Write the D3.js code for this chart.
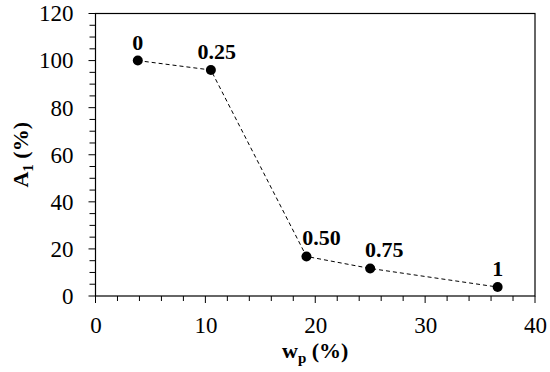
<!DOCTYPE html>
<html>
<head>
<meta charset="utf-8">
<script src="https://cdn.jsdelivr.net/npm/d3@7"></script>
<style>
  body { margin: 0; background: #fff; }
  text { font-family: "Liberation Serif", "Times New Roman", serif; fill: #000; }
</style>
</head>
<body>
<svg width="550" height="372"></svg>
<script>
// data
var wp = [3.85, 10.5, 19.2, 25.0, 36.6];
var A1 = [100, 96, 16.8, 11.7, 3.8];
var pointLabels = ["0", "0.25", "0.50", "0.75", "1"];
var xTicks = [0, 10, 20, 30, 40];
var yTicks = [0, 20, 40, 60, 80, 100, 120];

// label nudges (px), one per point
var labelDx = [0, 6, 15, 14, 0];

var svg = d3.select("svg"),
    pL = 95.5, pR = 535, pT = 13.5, pB = 296;

var x = d3.scaleLinear().domain([0, 40]).range([pL, pR]);
var y = d3.scaleLinear().domain([0, 120]).range([pB, pT]);

// frame
svg.append("rect")
    .attr("x", pL).attr("y", pT)
    .attr("width", pR - pL).attr("height", pB - pT)
    .attr("fill", "none").attr("stroke", "#000").attr("stroke-width", 1.2);

// ticks (major + minor)
svg.append("g").selectAll("line")
    .data(d3.range(0, 40.1, 2))
    .enter().append("line")
    .attr("x1", d => x(d)).attr("x2", d => x(d))
    .attr("y1", pB).attr("y2", d => pB + (d % 10 == 0 ? 7 : 5))
    .attr("stroke", "#000").attr("stroke-width", 1);

svg.append("g").selectAll("line")
    .data(d3.range(0, 120.1, 5))
    .enter().append("line")
    .attr("y1", d => y(d)).attr("y2", d => y(d))
    .attr("x1", pL).attr("x2", d => pL - (d % 20 == 0 ? 7 : 6))
    .attr("stroke", "#000").attr("stroke-width", 1);

// tick labels
var xAxis = svg.append("g")
    .attr("transform", "translate(0," + pB + ")")
    .call(d3.axisBottom(x).tickValues(xTicks).tickSize(0).tickPadding(21));
xAxis.select(".domain").remove();
xAxis.selectAll("text")
    .style("font-family", "Liberation Serif, serif")
    .style("font-size", "23px").attr("fill", "#000");

var yAxis = svg.append("g")
    .attr("transform", "translate(" + pL + ",0)")
    .call(d3.axisLeft(y).tickValues(yTicks).tickSize(0).tickPadding(22));
yAxis.select(".domain").remove();
yAxis.selectAll("text")
    .style("font-family", "Liberation Serif, serif")
    .style("font-size", "23px").attr("fill", "#000");

// axis titles
var xt = svg.append("text")
    .attr("x", (pL + pR) / 2).attr("y", 358)
    .attr("text-anchor", "middle")
    .style("font-size", "22px").style("font-weight", "bold");
xt.append("tspan").text("w");
xt.append("tspan").attr("dy", 5).style("font-size", "15px").text("p");
xt.append("tspan").attr("dy", -5).text(" (%)");

var yt = svg.append("text")
    .attr("transform", "translate(28," + (pT + pB) / 2 + ") rotate(-90)")
    .attr("text-anchor", "middle")
    .style("font-size", "22px").style("font-weight", "bold");
yt.append("tspan").text("A");
yt.append("tspan").attr("dy", 5).style("font-size", "15px").text("1");
yt.append("tspan").attr("dy", -5).text(" (%)");

// dashed line
var pts = wp.map((d, i) => [d, A1[i]]);
svg.append("path")
    .datum(pts)
    .attr("fill", "none")
    .attr("stroke", "#000")
    .attr("stroke-width", 1)
    .attr("stroke-dasharray", "4,3")
    .attr("d", d3.line().x(d => x(d[0])).y(d => y(d[1])));

// markers
svg.append("g").selectAll("circle")
    .data(pts)
    .enter().append("circle")
    .attr("cx", d => x(d[0])).attr("cy", d => y(d[1]))
    .attr("r", 5).attr("fill", "#000");

// point labels
svg.append("g").selectAll("text")
    .data(pts)
    .enter().append("text")
    .attr("x", (d, i) => x(d[0]) + labelDx[i])
    .attr("y", d => y(d[1]) - 11)
    .attr("text-anchor", "middle")
    .style("font-size", "22px").style("font-weight", "bold")
    .text((d, i) => pointLabels[i]);
</script>
</body>
</html>
